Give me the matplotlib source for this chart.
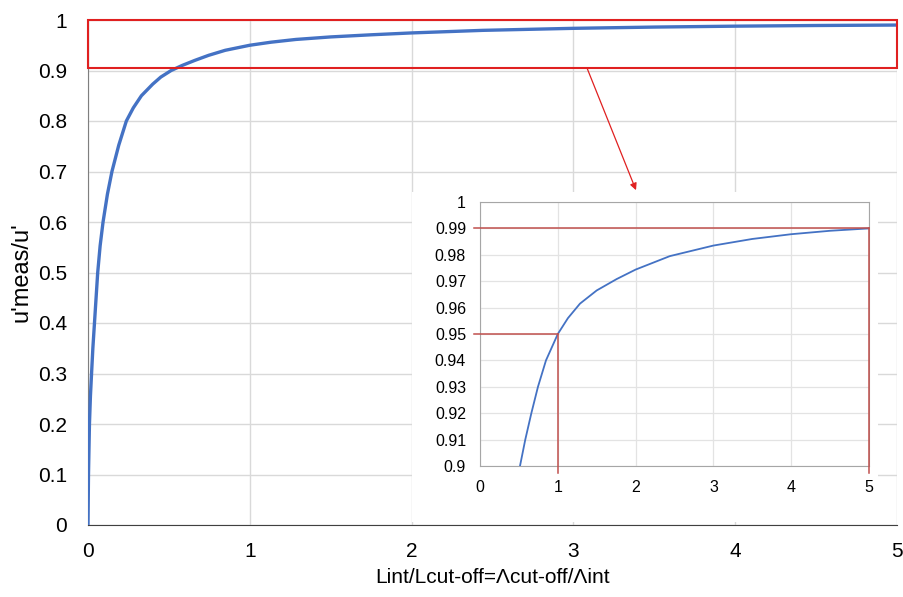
import matplotlib
matplotlib.use('Agg')
import matplotlib.pyplot as plt
from matplotlib.patches import Rectangle
from matplotlib.ticker import FuncFormatter

plt.rcParams['font.family'] = ['Liberation Sans', 'DejaVu Sans']

# values
ratio = [0, 0.003, 0.009, 0.015, 0.022, 0.03, 0.04, 0.05, 0.06, 0.075, 0.093, 0.12,
         0.148, 0.19, 0.237, 0.28, 0.33, 0.4, 0.45, 0.514, 0.582, 0.66, 0.745, 0.848,
         1.0, 1.13, 1.285, 1.5, 1.756, 2.0, 2.44, 3.0, 3.5, 4.0, 4.5, 5.0]
u_ratio = [0, 0.1, 0.2, 0.255, 0.3, 0.35, 0.4, 0.45, 0.5, 0.553, 0.6, 0.655,
           0.7, 0.752, 0.8, 0.826, 0.85, 0.873, 0.887, 0.9, 0.91, 0.92, 0.93, 0.94,
           0.95, 0.956, 0.9615, 0.9665, 0.9708, 0.9744, 0.9795, 0.9835, 0.986, 0.9878,
           0.9891, 0.99]

main_yticks = [0, 0.1, 0.2, 0.3, 0.4, 0.5, 0.6, 0.7, 0.8, 0.9, 1]
main_xticks = [0, 1, 2, 3, 4, 5]
inset_yticks = [0.9, 0.91, 0.92, 0.93, 0.94, 0.95, 0.96, 0.97, 0.98, 0.99, 1]
marks = [(1, 0.95), (5, 0.99)]

blue = '#4472C4'
grid_c = '#d9d9d9'

fig = plt.figure(figsize=(9.04, 5.97), dpi=100)

ax = fig.add_axes([88 / 904, 1 - 525 / 597, 809 / 904, 505 / 597])
ax.plot(ratio, u_ratio, color=blue, lw=2.4, zorder=3, solid_joinstyle='round')
ax.set_xlim(0, 5)
ax.set_ylim(0, 1)
ax.set_xticks(main_xticks)
ax.set_yticks(main_yticks)
fmt = FuncFormatter(lambda v, p: f'{v:g}')
ax.xaxis.set_major_formatter(fmt)
ax.yaxis.set_major_formatter(fmt)
ax.grid(True, color=grid_c, lw=1)
ax.set_axisbelow(True)
for s in ['top', 'right']:
    ax.spines[s].set_visible(False)
ax.spines['left'].set_color('#7f7f7f')
ax.spines['bottom'].set_color('#404040')
ax.tick_params(length=0, labelsize=15)
ax.tick_params(axis='y', pad=15)
ax.tick_params(axis='x', pad=12)
ax.set_xlabel('Lint/Lcut-off=Λcut-off/Λint', fontsize=15, labelpad=5)
ax.set_ylabel("u'meas/u'", fontsize=17, labelpad=4)

# zoom box and arrow
ax.add_patch(Rectangle((0, 0.9056), 5, 0.0944, fill=False, ec='#e02020', lw=1.5,
                       clip_on=False, zorder=4))
ax.annotate('', xy=(3.387, 0.663), xytext=(3.084, 0.905),
            arrowprops=dict(arrowstyle='-|>', color='#e02020', lw=0.9,
                            mutation_scale=10, shrinkA=0, shrinkB=0))

# white background behind inset
bg = fig.add_axes([412 / 904, 1 - 522 / 597, 466 / 904, 330 / 597])
bg.set_xticks([])
bg.set_yticks([])
for s in bg.spines.values():
    s.set_visible(False)
bg.set_facecolor('white')

ins = fig.add_axes([480 / 904, 1 - 466 / 597, 389 / 904, 264 / 597])
ins.plot(ratio, u_ratio, color=blue, lw=1.3, zorder=3)
ins.set_xlim(0, 5)
ins.set_ylim(0.9, 1)
ins.set_xticks(main_xticks)
ins.set_yticks(inset_yticks)
ins.xaxis.set_major_formatter(fmt)
ins.yaxis.set_major_formatter(fmt)
ins.grid(True, color='#e3e3e3', lw=0.9)
ins.set_axisbelow(True)
for s in ins.spines.values():
    s.set_color('#a6a6a6')
ins.tick_params(length=0, labelsize=11.5, pad=10)

red2 = '#c0504d'
for mx, my in marks:
    ins.plot([-0.077, mx], [my, my], color=red2, lw=1.1, clip_on=False, zorder=4)
    ins.plot([mx, mx], [my, 0.8973], color=red2, lw=1.1, clip_on=False, zorder=4)

fig.savefig('out.png', dpi=100)
